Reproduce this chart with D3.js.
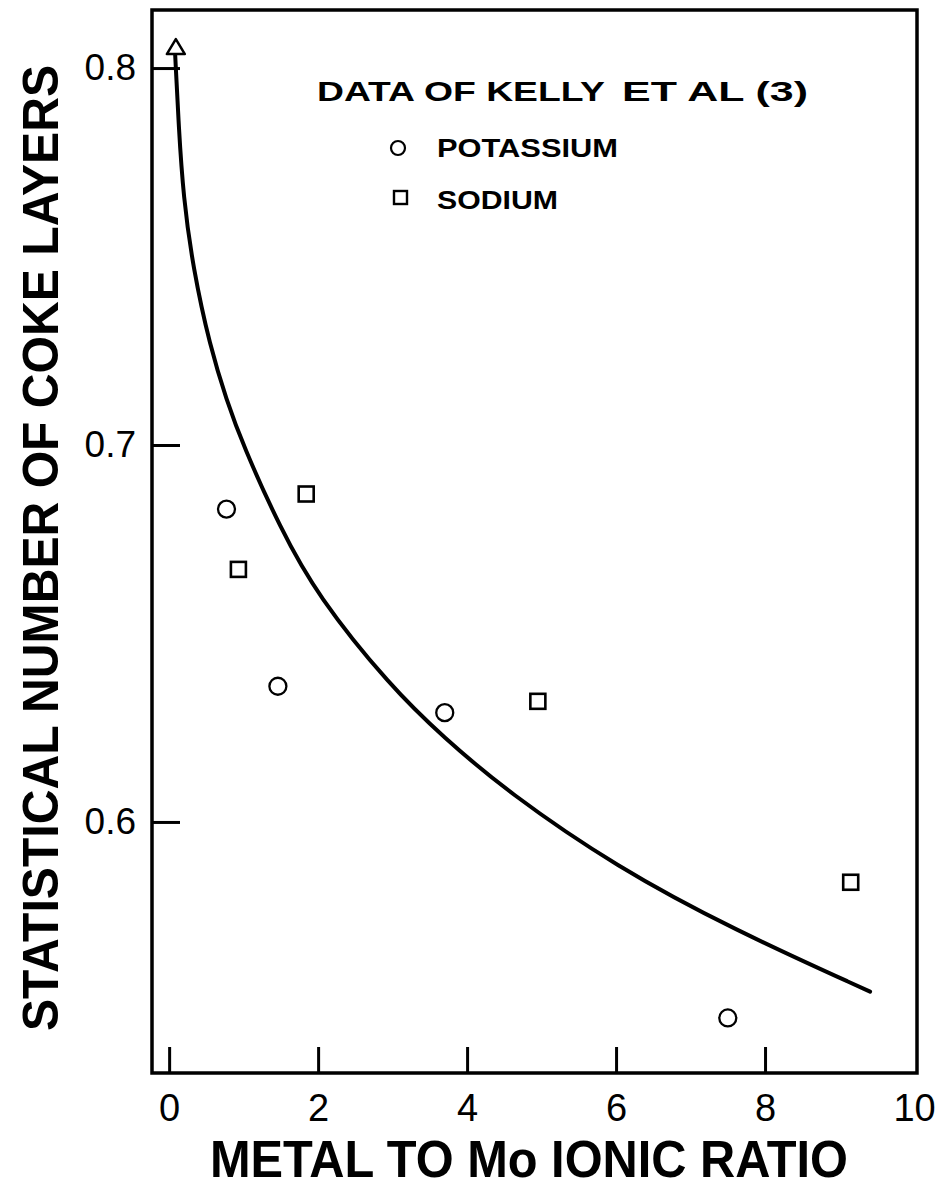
<!DOCTYPE html>
<html>
<head>
<meta charset="utf-8">
<script src="https://cdn.jsdelivr.net/npm/d3@7"></script>
<style>
  body { margin: 0; background: #fff; }
  text { font-family: "Liberation Sans", Arial, sans-serif; fill: #000; }
</style>
</head>
<body>
<svg id="chart" width="943" height="1187"></svg>
<script>
// data
const potassiumX = [0.77, 1.46, 3.70, 7.50];
const potassiumY = [0.683, 0.636, 0.629, 0.548];
const sodiumX = [0.93, 1.84, 4.95, 9.15];
const sodiumY = [0.667, 0.687, 0.632, 0.584];
// fitted curve (starts at the arrow)
const curveX = [0.08, 0.13, 0.19, 0.32, 0.55, 0.77, 0.99, 1.49, 1.99, 2.97, 3.68, 4.54, 6.01, 7.57, 9.41];
const curveY = [0.804, 0.784, 0.766, 0.747, 0.726, 0.712, 0.700, 0.678, 0.660, 0.636, 0.6225, 0.608, 0.588, 0.5715, 0.555];
const arrowTip = [0.09, 0.8077];
const xTicks = [0, 2, 4, 6, 8, 10];
const yTicks = [0.6, 0.7, 0.8];
const xDomain = [-0.23, 10.04];
const yDomain = [0.5334, 0.8154];

const svg = d3.select('#chart');
const FONT = '"Liberation Sans", Arial, sans-serif';

const x = d3.scaleLinear().domain(xDomain).range([152, 917]);
const y = d3.scaleLinear().domain(yDomain).range([1073, 10]);

// x axis: inward ticks, no tick mark at 10 (frame edge)
const xAxis = svg.append('g')
  .attr('transform', `translate(0,${y(yDomain[0])})`)
  .call(d3.axisBottom(x).tickValues(xTicks).tickFormat(d3.format('d'))
    .tickSizeInner(-26).tickSizeOuter(0).tickPadding(21));
xAxis.select('.domain').remove();
xAxis.selectAll('.tick line').attr('stroke', '#000').attr('stroke-width', 3)
  .filter(d => d === 10).remove();
xAxis.selectAll('.tick text')
  .attr('font-size', 38).attr('font-family', FONT).attr('fill', '#000');

// y axis
const yAxis = svg.append('g')
  .attr('transform', `translate(${x(xDomain[0])},0)`)
  .call(d3.axisLeft(y).tickValues(yTicks).tickFormat(d3.format('.1f'))
    .tickSizeInner(-28).tickSizeOuter(0).tickPadding(16));
yAxis.select('.domain').remove();
yAxis.selectAll('.tick line').attr('stroke', '#000').attr('stroke-width', 3);
yAxis.selectAll('.tick text')
  .attr('font-size', 37).attr('font-family', FONT).attr('fill', '#000');

// frame
svg.append('rect')
  .attr('x', x(xDomain[0])).attr('y', y(yDomain[1]))
  .attr('width', x(xDomain[1]) - x(xDomain[0]))
  .attr('height', y(yDomain[0]) - y(yDomain[1]))
  .attr('fill', 'none').attr('stroke', '#000').attr('stroke-width', 3.5);

// curve
const line = d3.line().x(d => x(d[0])).y(d => y(d[1])).curve(d3.curveBasis);
svg.append('path')
  .datum(d3.zip(curveX, curveY))
  .attr('d', line)
  .attr('fill', 'none').attr('stroke', '#000').attr('stroke-width', 4)
  .attr('stroke-linecap', 'round');

// open arrow head at curve start
const tx = x(arrowTip[0]), ty = y(arrowTip[1]);
svg.append('path')
  .attr('d', `M${tx},${ty} L${tx - 9},${ty + 15} L${tx + 9},${ty + 15} Z`)
  .attr('fill', '#fff').attr('stroke', '#000').attr('stroke-width', 2.5)
  .attr('stroke-linejoin', 'round');

// potassium = circles
svg.append('g').selectAll('circle')
  .data(d3.zip(potassiumX, potassiumY))
  .join('circle')
  .attr('cx', d => x(d[0])).attr('cy', d => y(d[1])).attr('r', 8.5)
  .attr('fill', 'none').attr('stroke', '#000').attr('stroke-width', 2.3);

// sodium = squares
const sq = 15;
svg.append('g').selectAll('rect')
  .data(d3.zip(sodiumX, sodiumY))
  .join('rect')
  .attr('x', d => x(d[0]) - sq / 2).attr('y', d => y(d[1]) - sq / 2)
  .attr('width', sq).attr('height', sq)
  .attr('fill', 'none').attr('stroke', '#000').attr('stroke-width', 2.6);

// legend
const legend = svg.append('g').attr('font-weight', 'bold');
legend.append('text').attr('x', 317).attr('y', 101)
  .attr('font-size', 28).attr('textLength', 288).attr('lengthAdjust', 'spacingAndGlyphs')
  .text('DATA  OF KELLY');
legend.append('text').attr('x', 622).attr('y', 101)
  .attr('font-size', 27).attr('textLength', 186).attr('lengthAdjust', 'spacingAndGlyphs')
  .text('ET AL (3)');
legend.append('circle').attr('cx', 398).attr('cy', 148).attr('r', 7)
  .attr('fill', 'none').attr('stroke', '#000').attr('stroke-width', 2.2);
legend.append('text').attr('x', 437).attr('y', 157)
  .attr('font-size', 26).attr('textLength', 181).attr('lengthAdjust', 'spacingAndGlyphs')
  .text('POTASSIUM');
legend.append('rect').attr('x', 394).attr('y', 191).attr('width', 13).attr('height', 13)
  .attr('fill', 'none').attr('stroke', '#000').attr('stroke-width', 2.4);
legend.append('text').attr('x', 437).attr('y', 209)
  .attr('font-size', 26).attr('textLength', 121).attr('lengthAdjust', 'spacingAndGlyphs')
  .text('SODIUM');

// axis titles
svg.append('text')
  .attr('transform', 'translate(58,548) rotate(-90)')
  .attr('text-anchor', 'middle')
  .attr('font-size', 50).attr('font-weight', 'bold')
  .attr('textLength', 966).attr('lengthAdjust', 'spacingAndGlyphs')
  .text('STATISTICAL NUMBER OF COKE LAYERS');

svg.append('text')
  .attr('x', 529).attr('y', 1177)
  .attr('text-anchor', 'middle')
  .attr('font-size', 52).attr('font-weight', 'bold')
  .attr('textLength', 638).attr('lengthAdjust', 'spacingAndGlyphs')
  .text('METAL TO Mo IONIC RATIO');
</script>
</body>
</html>
